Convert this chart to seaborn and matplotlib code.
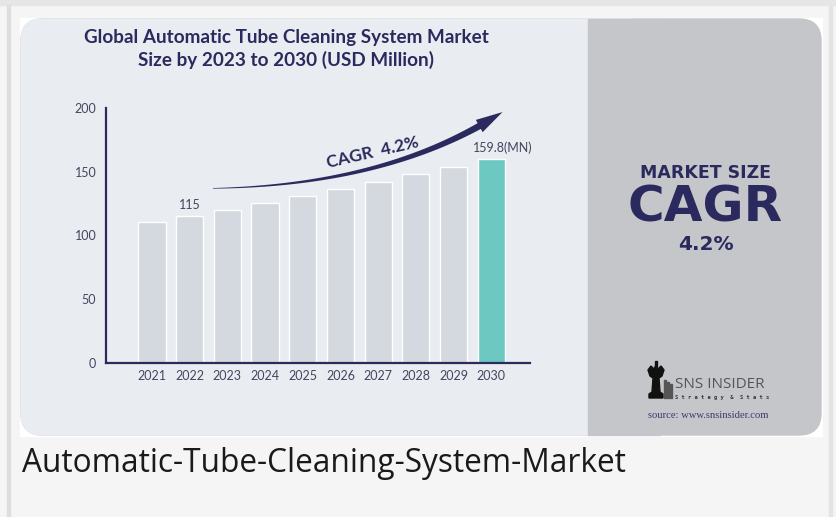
import matplotlib
matplotlib.use("Agg")
import matplotlib.pyplot as plt
import numpy as np
import pandas as pd
import seaborn as sns
from matplotlib.patches import FancyBboxPatch, Rectangle, Polygon

# data
years = ["2021", "2022", "2023", "2024", "2025", "2026", "2027", "2028", "2029", "2030"]
market_size = [110.5, 115, 120, 125.3, 130.8, 136.3, 142, 148, 154, 159.8]
y_ticks = [0, 50, 100, 150, 200]
labeled = {"2022": "115", "2030": "159.8(MN)"}
cagr_text = "CAGR  4.2%"

navy = "#2b2a5e"
bar_grey = "#d3d9df"
teal = "#6cc8c0"
card_col = "#e9ecf1"
panel_col = "#c5c6c9"

sns.set_style("white")
plt.rcParams["font.family"] = ["Lato", "DejaVu Sans"]

W, H = 836, 517
fig = plt.figure(figsize=(W / 100, H / 100), dpi=100)
fig.patch.set_facecolor("#f5f5f5")
T = fig.dpi_scale_trans


def rect_px(x0, y0, x1, y1):
    # image pixel coords (top-left origin) -> inches
    return x0 / 100, (H - y1) / 100, (x1 - x0) / 100, (y1 - y0) / 100


def fx(x):
    return x / W


def fy(y):
    return 1 - y / H


# page frame
x, y, w, h = rect_px(0, 0, W, 5)
fig.patches.append(Rectangle((x, y), w, h, transform=T, color="#e6e6e6", zorder=0))
x, y, w, h = rect_px(7, 5, 10, H)
fig.patches.append(Rectangle((x, y), w, h, transform=T, color="#dedede", zorder=0))
x, y, w, h = rect_px(829, 5, 832, H)
fig.patches.append(Rectangle((x, y), w, h, transform=T, color="#e4e4e4", zorder=0))
x, y, w, h = rect_px(20, 18, 822, 436)
fig.patches.append(Rectangle((x, y), w, h, transform=T, color="white", zorder=0))

# card: grey full rounded card, light left part, square join
x, y, w, h = rect_px(21, 19, 821, 435)
fig.patches.append(FancyBboxPatch((x, y), w, h, boxstyle="round,pad=0,rounding_size=0.22",
                                  transform=T, color=panel_col, zorder=0))
x, y, w, h = rect_px(21, 19, 650, 435)
fig.patches.append(FancyBboxPatch((x, y), w, h, boxstyle="round,pad=0,rounding_size=0.22",
                                  transform=T, color=card_col, zorder=0))
x, y, w, h = rect_px(588, 19, 660, 435)
fig.patches.append(Rectangle((x, y), w, h, transform=T, color=panel_col, zorder=0))

# chart
ax = fig.add_axes([106 / W, 1 - 363 / H, 424 / W, 255 / H])
ax.set_zorder(5)
ax.patch.set_alpha(0)
df = pd.DataFrame({"year": years, "value": market_size})
colors = [bar_grey] * (len(years) - 1) + [teal]
sns.barplot(data=df, x="year", y="value", hue="year", palette=colors, legend=False,
            width=0.72, saturation=1, ax=ax, zorder=2)
ax.set_xlim(-1.22, len(years) - 1 + 1.03)
ax.set_ylim(0, 200)
ax.set_yticks(y_ticks)
ax.set_xlabel("")
ax.set_ylabel("")
for s in ["top", "right"]:
    ax.spines[s].set_visible(False)
for s in ["left", "bottom"]:
    ax.spines[s].set_color(navy)
    ax.spines[s].set_linewidth(1.6)
ax.tick_params(length=0, labelsize=9, labelcolor="#44465e")
ax.tick_params(axis="y", pad=7)
ax.tick_params(axis="x", pad=5)

for i, yr in enumerate(years):
    if yr in labeled:
        ax.text(i + (0.3 if i == len(years) - 1 else 0), market_size[i] + 4, labeled[yr],
                ha="center", va="bottom", fontsize=9, color="#44465e")

# tapered growth arrow, built in pixel space
fig.canvas.draw()
p0 = ax.transData.transform((1.62, market_size[2] + 17))
p1 = ax.transData.transform((6.3, market_size[5] + 3))
p2 = ax.transData.transform((9.3, market_size[-1] + 37))
t = np.linspace(0, 0.9, 80)[:, None]
curve = (1 - t) ** 2 * p0 + 2 * (1 - t) * t * p1 + t ** 2 * p2
deriv = 2 * (1 - t) * (p1 - p0) + 2 * t * (p2 - p1)
nrm = np.column_stack([-deriv[:, 1], deriv[:, 0]])
nrm /= np.linalg.norm(nrm, axis=1)[:, None]
hw = 0.3 + 3.0 * (t / 0.9)
upper = curve + nrm * hw
lower = curve - nrm * hw
head_up = curve[-1] + nrm[-1] * 7
head_lo = curve[-1] - nrm[-1] * 7
pts = np.vstack([upper, head_up, p2, head_lo, lower[::-1]])
pts = ax.transData.inverted().transform(pts)
ax.add_patch(Polygon(pts, closed=True, color=navy, lw=0, clip_on=False, zorder=3))
ax.text(5.85, 165, cagr_text, rotation=13, ha="center", va="center", fontsize=12.5,
        fontweight="bold", color=navy)

# title
fig.text(fx(286), fy(49), "Global Automatic Tube Cleaning System Market\nSize by 2023 to 2030 (USD Million)",
         ha="center", va="center", fontsize=13.6, fontweight="bold", color=navy, linespacing=1.3)

# right panel
panel_font = ["DejaVu Sans"]
fig.text(fx(705), fy(178), "MARKET SIZE", ha="center", va="baseline", fontsize=12.5,
         fontweight="bold", color=navy, family=panel_font)
fig.text(fx(705), fy(222), "CAGR", ha="center", va="baseline", fontsize=36,
         fontweight="bold", color=navy, family=panel_font)
fig.text(fx(706), fy(250), "4.2%", ha="center", va="baseline", fontsize=14.5,
         fontweight="bold", color=navy, family=panel_font)

# logo
rook = [(649, 398), (649, 394), (652, 392), (653, 378), (650, 376), (648, 370), (651, 366),
        (654, 369), (656, 365), (658, 369), (661, 366), (664, 370), (662, 376), (659, 378),
        (660, 392), (663, 394), (663, 398)]
rook_in = [(px / 100, (H - py) / 100) for px, py in rook]
fig.patches.append(Polygon(rook_in, closed=True, transform=T, color="#111111", zorder=1))
x, y, w, h = rect_px(655, 361, 657, 366)
fig.patches.append(Rectangle((x, y), w, h, transform=T, color="#111111", zorder=1))
for k, gx in enumerate([664, 667, 670]):
    x, y, w, h = rect_px(gx, 380 + k * 2, gx + 2, 398)
    fig.patches.append(Rectangle((x, y), w, h, transform=T, color="#555555", zorder=1))
fig.text(fx(675), fy(385), "SNS INSIDER", ha="left", va="center", fontsize=11,
         color="#555555", family=["Open Sans", "DejaVu Sans"])
fig.text(fx(675), fy(397), "S t r a t e g y  &  S t a t s", ha="left", va="center",
         fontsize=3.9, fontweight="bold", color="#333333", family=["DejaVu Sans Mono"])
fig.text(fx(708), fy(416), "source: www.snsinsider.com", ha="center", va="center",
         fontsize=7.7, color="#3b3a6e", family=["Liberation Serif", "DejaVu Serif"])

# caption
fig.text(fx(22), fy(463), "Automatic-Tube-Cleaning-System-Market", ha="left", va="center",
         fontsize=22.8, color="#1a1a1a", family=["Open Sans", "DejaVu Sans"])

fig.savefig("out.png", dpi=100, facecolor=fig.get_facecolor())
